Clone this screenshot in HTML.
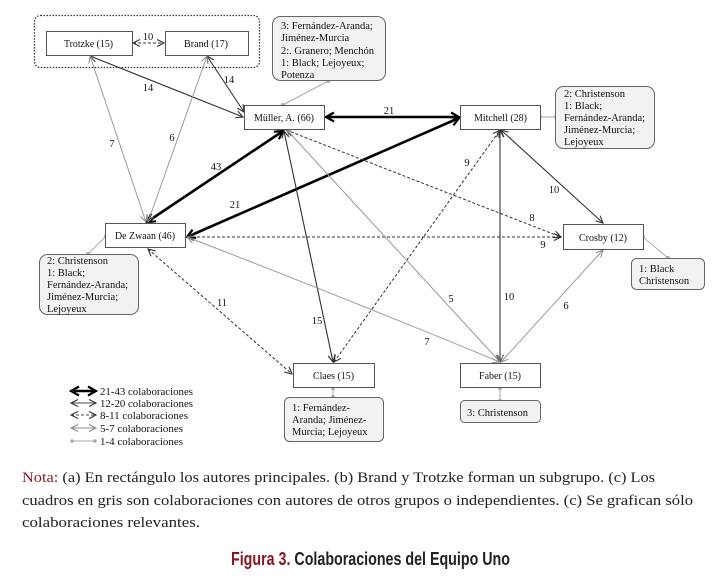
<!DOCTYPE html>
<html><head><meta charset="utf-8"><style>
html,body{margin:0;padding:0;background:#fff;}
svg{display:block;}
.n{font-family:"Liberation Serif",serif;font-size:10.5px;fill:#111;}
.a{font-family:"Liberation Serif",serif;font-size:10.5px;fill:#111;}
.l{font-family:"Liberation Serif",serif;font-size:10.5px;fill:#111;text-anchor:middle;}
.g{font-family:"Liberation Serif",serif;font-size:11px;fill:#111;}
.note{font-family:"Liberation Serif",serif;font-size:15px;fill:#222;}
.cap{font-family:"Liberation Sans Narrow","Liberation Sans",sans-serif;font-size:18px;font-weight:bold;fill:#222;}
</style></head><body>
<svg width="727" height="586" viewBox="0 0 727 586" xmlns="http://www.w3.org/2000/svg">
<defs>
<marker id="aT" viewBox="-12 -7 14 14" refX="0" refY="0" markerWidth="14" markerHeight="14" orient="auto-start-reverse" markerUnits="userSpaceOnUse"><path d="M-8,-4.5 L0,0 L-8,4.5" fill="none" stroke="#000" stroke-width="2.2"/></marker>
<marker id="aD" viewBox="-12 -7 14 14" refX="0" refY="0" markerWidth="14" markerHeight="14" orient="auto-start-reverse" markerUnits="userSpaceOnUse"><path d="M-7,-3.5 L0,0 L-7,3.5" fill="none" stroke="#333" stroke-width="1.1"/></marker>
<marker id="aG" viewBox="-12 -7 14 14" refX="0" refY="0" markerWidth="14" markerHeight="14" orient="auto-start-reverse" markerUnits="userSpaceOnUse"><path d="M-7,-3.5 L0,0 L-7,3.5" fill="none" stroke="#888" stroke-width="1"/></marker>
</defs>
<rect width="727" height="586" fill="#fff"/>

<!-- group box -->
<rect x="34.5" y="15.5" width="225" height="52" rx="6" fill="none" stroke="#333" stroke-width="1.3" stroke-dasharray="1.5 1.5"/>

<!-- edges -->
<g fill="none">
<!-- thick -->
<line x1="326" y1="117" x2="459" y2="117" stroke="#000" stroke-width="2.6" marker-start="url(#aT)" marker-end="url(#aT)"/>
<line x1="147" y1="222" x2="283" y2="131" stroke="#000" stroke-width="2.6" marker-start="url(#aT)" marker-end="url(#aT)"/>
<line x1="187" y1="237" x2="459" y2="118" stroke="#000" stroke-width="2.6" marker-start="url(#aT)" marker-end="url(#aT)"/>
<!-- dark thin -->
<line x1="90" y1="56" x2="243" y2="117" stroke="#333" stroke-width="1.1" marker-start="url(#aD)" marker-end="url(#aD)"/>
<line x1="207" y1="56" x2="244" y2="112" stroke="#333" stroke-width="1.1" marker-start="url(#aD)" marker-end="url(#aD)"/>
<line x1="284" y1="131" x2="333" y2="362" stroke="#333" stroke-width="1.1" marker-start="url(#aD)" marker-end="url(#aD)"/>
<line x1="500" y1="130" x2="500" y2="362" stroke="#333" stroke-width="1.1" marker-start="url(#aD)" marker-end="url(#aD)"/>
<line x1="501" y1="130" x2="603" y2="223" stroke="#333" stroke-width="1.1" marker-start="url(#aD)" marker-end="url(#aD)"/>
<!-- dashed -->
<line x1="133" y1="43" x2="164" y2="43" stroke="#333" stroke-width="1" stroke-dasharray="3 2" marker-start="url(#aD)" marker-end="url(#aD)"/>
<line x1="286" y1="130" x2="561" y2="237" stroke="#333" stroke-width="1" stroke-dasharray="3 2" marker-start="url(#aD)" marker-end="url(#aD)"/>
<line x1="187" y1="237" x2="561" y2="237" stroke="#333" stroke-width="1" stroke-dasharray="3 2" marker-start="url(#aD)" marker-end="url(#aD)"/>
<line x1="148" y1="249" x2="292" y2="374" stroke="#333" stroke-width="1" stroke-dasharray="3 2" marker-start="url(#aD)" marker-end="url(#aD)"/>
<line x1="334" y1="362" x2="500" y2="130" stroke="#333" stroke-width="1" stroke-dasharray="3 2" marker-start="url(#aD)" marker-end="url(#aD)"/>
<!-- gray -->
<line x1="90" y1="56" x2="146" y2="222" stroke="#999" stroke-width="1" marker-start="url(#aG)" marker-end="url(#aG)"/>
<line x1="207" y1="56" x2="148" y2="222" stroke="#999" stroke-width="1" marker-start="url(#aG)" marker-end="url(#aG)"/>
<line x1="287" y1="130" x2="500" y2="362" stroke="#999" stroke-width="1" marker-start="url(#aG)" marker-end="url(#aG)"/>
<path d="M187,237 Q330,292 500,362" stroke="#999" stroke-width="1" marker-start="url(#aG)" marker-end="url(#aG)"/>
<line x1="501" y1="362" x2="603" y2="250" stroke="#999" stroke-width="1" marker-start="url(#aG)" marker-end="url(#aG)"/>
<!-- 1-4 connectors -->
<g stroke="#aaa" stroke-width="1">
<line x1="283" y1="105" x2="328" y2="81"/>
<line x1="540" y1="117" x2="556" y2="117"/>
<line x1="106" y1="236" x2="88" y2="254"/>
<line x1="643" y1="237" x2="668" y2="258"/>
<line x1="333" y1="388" x2="333" y2="397"/>
<line x1="500" y1="388" x2="500" y2="401"/>
</g>
</g>
<g fill="#aaa">
<circle cx="283" cy="105" r="2"/><circle cx="328" cy="81" r="2"/>
<circle cx="540" cy="117" r="2"/><circle cx="556" cy="117" r="2"/>
<circle cx="106" cy="236" r="2"/><circle cx="88" cy="254" r="2"/>
<circle cx="643" cy="237" r="2"/><circle cx="668" cy="258" r="2"/>
<circle cx="333" cy="388" r="2"/><circle cx="333" cy="397" r="2"/>
<circle cx="500" cy="388" r="2"/><circle cx="500" cy="401" r="2"/>
</g>

<!-- nodes -->
<g fill="#fff" stroke="#555" stroke-width="1">
<rect x="46.5" y="31.5" width="86" height="24"/>
<rect x="165.5" y="31.5" width="83" height="24"/>
<rect x="244.5" y="105.5" width="80" height="24"/>
<rect x="460.5" y="105.5" width="80" height="24"/>
<rect x="105.5" y="223.5" width="80" height="24"/>
<rect x="563.5" y="224.5" width="80" height="25"/>
<rect x="293.5" y="363.5" width="81" height="24"/>
<rect x="460.5" y="363.5" width="80" height="24"/>
</g>
<text class="n" x="64" y="47" textLength="49" lengthAdjust="spacingAndGlyphs">Trotzke (15)</text>
<text class="n" x="184" y="47" textLength="44" lengthAdjust="spacingAndGlyphs">Brand (17)</text>
<text class="n" x="254" y="121" textLength="60" lengthAdjust="spacingAndGlyphs">Müller, A. (66)</text>
<text class="n" x="474" y="121" textLength="53" lengthAdjust="spacingAndGlyphs">Mitchell (28)</text>
<text class="n" x="115" y="239" textLength="60" lengthAdjust="spacingAndGlyphs">De Zwaan (46)</text>
<text class="n" x="579" y="241" textLength="48" lengthAdjust="spacingAndGlyphs">Crosby (12)</text>
<text class="n" x="313" y="379" textLength="41" lengthAdjust="spacingAndGlyphs">Claes (15)</text>
<text class="n" x="479" y="379" textLength="42" lengthAdjust="spacingAndGlyphs">Faber (15)</text>

<!-- annotation boxes -->
<g fill="#f2f2f2" stroke="#666" stroke-width="1">
<rect x="272.5" y="16.5" width="113" height="64" rx="8"/>
<rect x="555.5" y="86.5" width="99" height="62" rx="8"/>
<rect x="39.5" y="254.5" width="99" height="60" rx="8"/>
<rect x="631.5" y="258.5" width="73" height="31" rx="5"/>
<rect x="284.5" y="397.5" width="99" height="44" rx="5"/>
<rect x="460.5" y="400.5" width="80" height="22" rx="4"/>
</g>
<text class="a" x="281" y="29">3: Fernández-Aranda;</text>
<text class="a" x="281" y="41">Jiménez-Murcia</text>
<text class="a" x="281" y="54">2:. Granero; Menchón</text>
<text class="a" x="281" y="66">1: Black; Lejoyeux;</text>
<text class="a" x="281" y="78">Potenza</text>

<text class="a" x="564" y="97">2: Christenson</text>
<text class="a" x="564" y="109">1: Black;</text>
<text class="a" x="564" y="121">Fernández-Aranda;</text>
<text class="a" x="564" y="133">Jiménez-Murcia;</text>
<text class="a" x="564" y="145">Lejoyeux</text>

<text class="a" x="47" y="264">2: Christenson</text>
<text class="a" x="47" y="276">1: Black;</text>
<text class="a" x="47" y="288">Fernández-Aranda;</text>
<text class="a" x="47" y="300">Jiménez-Murcia;</text>
<text class="a" x="47" y="312">Lejoyeux</text>

<text class="a" x="639" y="272">1: Black</text>
<text class="a" x="639" y="284">Christenson</text>

<text class="a" x="292" y="411">1: Fernández-</text>
<text class="a" x="292" y="423">Aranda; Jiménez-</text>
<text class="a" x="292" y="435">Murcia; Lejoyeux</text>

<text class="a" x="467" y="416">3: Christenson</text>

<!-- edge labels -->
<text class="l" x="148" y="40">10</text>
<text class="l" x="148" y="91">14</text>
<text class="l" x="229" y="83">14</text>
<text class="l" x="112" y="147">7</text>
<text class="l" x="172" y="141">6</text>
<text class="l" x="389" y="114">21</text>
<text class="l" x="216" y="170">43</text>
<text class="l" x="235" y="208">21</text>
<text class="l" x="317" y="324">15</text>
<text class="l" x="532" y="221">8</text>
<text class="l" x="543" y="248">9</text>
<text class="l" x="451" y="302">5</text>
<text class="l" x="427" y="345">7</text>
<text class="l" x="222" y="306">11</text>
<text class="l" x="467" y="166">9</text>
<text class="l" x="509" y="300">10</text>
<text class="l" x="554" y="193">10</text>
<text class="l" x="566" y="309">6</text>

<!-- legend -->
<g fill="none">
<line x1="71" y1="391" x2="96" y2="391" stroke="#000" stroke-width="2.4" marker-start="url(#aT)" marker-end="url(#aT)"/>
<line x1="71" y1="403" x2="96" y2="403" stroke="#444" stroke-width="1" marker-start="url(#aD)" marker-end="url(#aD)"/>
<line x1="71" y1="415" x2="96" y2="415" stroke="#444" stroke-width="1" stroke-dasharray="3 2" marker-start="url(#aD)" marker-end="url(#aD)"/>
<line x1="71" y1="428" x2="96" y2="428" stroke="#888" stroke-width="1" marker-start="url(#aG)" marker-end="url(#aG)"/>
<line x1="72" y1="441" x2="95" y2="441" stroke="#aaa" stroke-width="1"/>
</g>
<circle cx="72" cy="441" r="1.8" fill="#aaa"/><circle cx="95" cy="441" r="1.8" fill="#aaa"/>
<text class="g" x="100" y="395" textLength="93" lengthAdjust="spacingAndGlyphs">21-43 colaboraciones</text>
<text class="g" x="100" y="407" textLength="93" lengthAdjust="spacingAndGlyphs">12-20 colaboraciones</text>
<text class="g" x="100" y="419" textLength="88" lengthAdjust="spacingAndGlyphs">8-11 colaboraciones</text>
<text class="g" x="100" y="432" textLength="83" lengthAdjust="spacingAndGlyphs">5-7 colaboraciones</text>
<text class="g" x="100" y="445" textLength="83" lengthAdjust="spacingAndGlyphs">1-4 colaboraciones</text>

<!-- note -->
<text class="note" x="22" y="482" textLength="633" lengthAdjust="spacingAndGlyphs"><tspan fill="#8b1a22">Nota:</tspan> (a) En rectángulo los autores principales. (b) Brand y Trotzke forman un subgrupo. (c) Los</text>
<text class="note" x="22" y="505" textLength="671" lengthAdjust="spacingAndGlyphs">cuadros en gris son colaboraciones con autores de otros grupos o independientes. (c) Se grafican sólo</text>
<text class="note" x="22" y="527" textLength="178" lengthAdjust="spacingAndGlyphs">colaboraciones relevantes.</text>

<!-- caption -->
<text class="cap" x="231" y="565" textLength="279" lengthAdjust="spacingAndGlyphs"><tspan fill="#8b1520">Figura 3.</tspan> Colaboraciones del Equipo Uno</text>
</svg>
</body></html>
